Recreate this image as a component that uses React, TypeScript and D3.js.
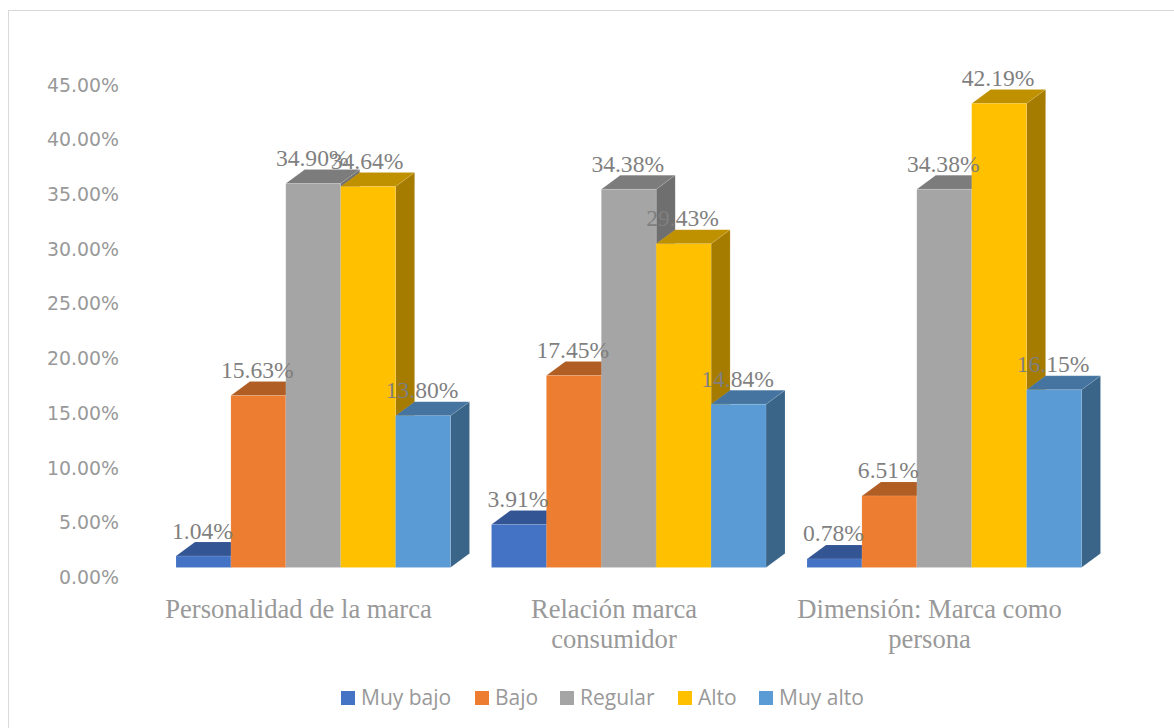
import React from "react";
import * as d3 from "d3";

const categories = [["Personalidad de la marca"], ["Relación marca", "consumidor"], ["Dimensión: Marca como", "persona"]];
const seriesNames = ["Muy bajo", "Bajo", "Regular", "Alto", "Muy alto"];
const muyBajo = [1.04, 3.91, 0.78];
const bajo = [15.63, 17.45, 6.51];
const regular = [34.9, 34.38, 34.38];
const alto = [34.64, 29.43, 42.19];
const muyAlto = [13.8, 14.84, 16.15];
const tickValues = [0, 5, 10, 15, 20, 25, 30, 35, 40, 45];

const seriesValues = [muyBajo, bajo, regular, alto, muyAlto];
const frontColors = ["#4472C4", "#ED7D31", "#A5A5A5", "#FFC000", "#5B9BD5"];
const topColors = ["#335593", "#B15E25", "#7C7C7C", "#BF9000", "#44749F"];
const sideColors = ["#2D4D85", "#9E5421", "#6F6F6F", "#A67C00", "#3B6588"];
const legendSwatchX = [341, 475, 560, 678, 759];

const DEPTH_X = 19;
const DEPTH_Y = 14;
const BAR_W = 54.9;

export default function App() {
  const yBar = d3.scaleLinear().domain([0, 45]).range([567.5, 72.5]);
  const yTick = d3.scaleLinear().domain([0, 45]).range([577, 84.5]);
  const xGroup = d3.scalePoint<number>().domain([0, 1, 2]).range([176, 807]);
  const serif = "'Liberation Serif', serif";
  const edge = { stroke: "#fff", strokeOpacity: 0.12, strokeWidth: 0.8 };
  return (
    <svg width={1174} height={728} style={{ position: "absolute", left: 0, top: 0, background: "#fff" }}>
      <rect x={8.5} y={10.5} width={1175} height={730} fill="#fff" stroke="#D9D9D9" />
      {tickValues.map((t) => (
        <text key={t} x={119} y={yTick(t) + 7} textAnchor="end" fontFamily="'DejaVu Sans', sans-serif" fontSize={18.9} fill="#999">
          {t.toFixed(2)}%
        </text>
      ))}
      {categories.map((_, g) => (
        <g key={g}>
          {seriesValues.map((vals, s) => {
            const x0 = xGroup(g)! + s * BAR_W;
            const x1 = x0 + BAR_W;
            const yT = yBar(vals[g]);
            const y0 = yBar(0);
            return (
              <g key={s}>
                <path d={`M${x1},${y0}L${x1 + DEPTH_X},${y0 - DEPTH_Y}L${x1 + DEPTH_X},${yT - DEPTH_Y}L${x1},${yT}Z`} fill={sideColors[s]} {...edge} />
                <path d={`M${x0},${yT}L${x0 + DEPTH_X},${yT - DEPTH_Y}L${x1 + DEPTH_X},${yT - DEPTH_Y}L${x1},${yT}Z`} fill={topColors[s]} {...edge} />
                <rect x={x0} y={yT} width={BAR_W} height={y0 - yT} fill={frontColors[s]} {...edge} />
              </g>
            );
          })}
        </g>
      ))}
      {categories.map((_, g) =>
        seriesValues.map((vals, s) => (
          <text key={`${g}-${s}`} x={xGroup(g)! + (s + 0.5) * BAR_W - 1} y={yBar(vals[g]) - 17.5} textAnchor="middle" fontFamily={serif} fontSize={23.6} fill="#7F7F7F">
            {vals[g].toFixed(2)}%
          </text>
        ))
      )}
      {categories.map((lines, g) =>
        lines.map((line, i) => (
          <text key={line} x={xGroup(g)! + 122.5} y={617.5 + i * 30} textAnchor="middle" fontFamily={serif} fontSize={26.6} fill="#999">
            {line}
          </text>
        ))
      )}
      {seriesNames.map((name, s) => (
        <g key={name}>
          <rect x={legendSwatchX[s]} y={691} width={14} height={14} fill={frontColors[s]} />
          <text x={legendSwatchX[s] + 20} y={704.5} fontFamily="'Open Sans', sans-serif" fontSize={21} fill="#999">
            {name}
          </text>
        </g>
      ))}
    </svg>
  );
}
